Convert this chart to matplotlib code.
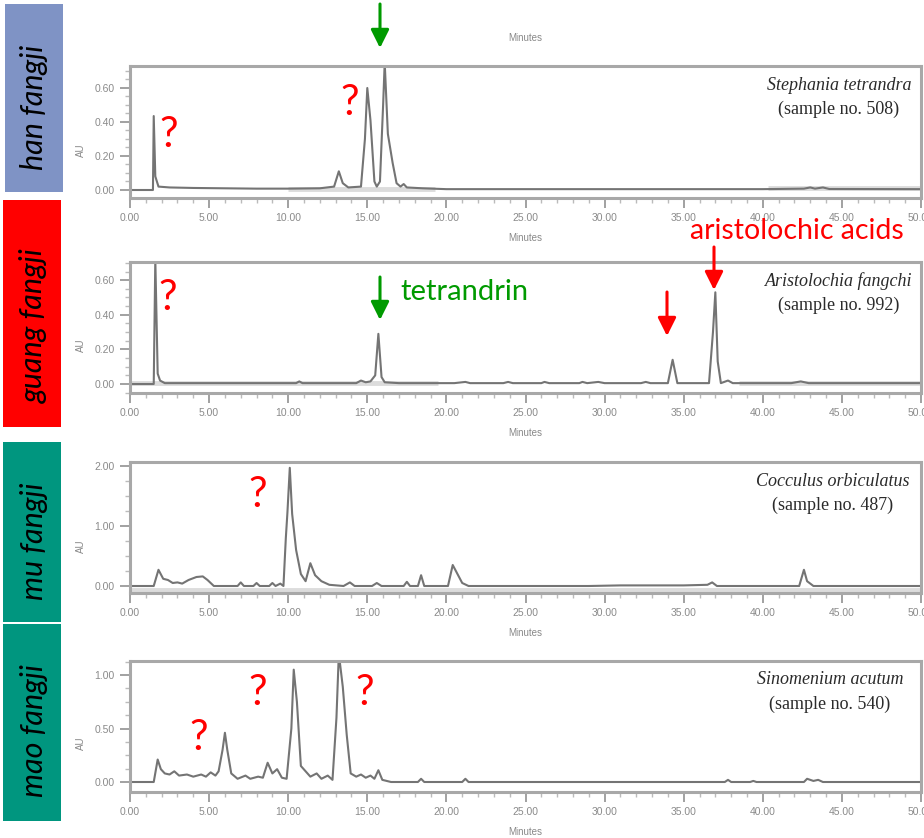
import matplotlib
matplotlib.use("Agg")
import matplotlib.pyplot as plt
from matplotlib.patches import Rectangle, FancyArrowPatch
from matplotlib.ticker import MultipleLocator, FixedLocator

W, H = 924, 838

# ---------------- data (retention time in minutes, absorbance in AU) ----------------
han_t = [0.0, 1.45, 1.5, 1.6, 1.8, 2.5, 4.0, 6.0, 8.0, 10.0, 12.0, 12.9, 13.2, 13.45, 13.8,
         14.6, 14.85, 15.0, 15.2, 15.45, 15.6, 15.8, 16.0, 16.1, 16.3, 16.6, 16.85, 17.1,
         17.3, 17.5, 18.5, 20.0, 30.0, 40.0, 42.6, 43.0, 43.3, 43.8, 44.2, 50.0]
han_au = [0.0, 0.0, 0.435, 0.08, 0.02, 0.015, 0.012, 0.01, 0.008, 0.008, 0.01, 0.02, 0.11, 0.04, 0.015,
          0.02, 0.3, 0.60, 0.41, 0.05, 0.02, 0.05, 0.5, 0.75, 0.33, 0.16, 0.04, 0.02,
          0.035, 0.015, 0.01, 0.005, 0.005, 0.005, 0.008, 0.015, 0.008, 0.015, 0.006, 0.005]

guang_t = [0.0, 1.5, 1.6, 1.75, 1.9, 2.2, 10.5, 10.7, 10.9, 14.3, 14.6, 14.9, 15.2, 15.5, 15.7,
           15.9, 16.1, 17.0, 20.5, 21.2, 21.5, 23.6, 23.9, 24.2, 26.0, 26.2, 26.5, 28.4, 28.6,
           28.9, 29.6, 30.0, 32.3, 32.6, 32.9, 34.0, 34.3, 34.6, 36.6, 36.85, 37.0, 37.15,
           37.35, 37.8, 38.1, 41.8, 42.4, 42.9, 50.0]
guang_au = [0.0, 0.0, 0.72, 0.06, 0.02, 0.005, 0.005, 0.015, 0.005, 0.005, 0.02, 0.01, 0.015, 0.05, 0.29,
            0.04, 0.01, 0.005, 0.005, 0.012, 0.005, 0.005, 0.012, 0.005, 0.005, 0.012, 0.005, 0.005, 0.012,
            0.005, 0.012, 0.005, 0.005, 0.012, 0.005, 0.005, 0.14, 0.005, 0.005, 0.3, 0.53, 0.13,
            0.005, 0.02, 0.005, 0.005, 0.015, 0.005, 0.005]

mu_t = [0.0, 1.5, 1.8, 2.1, 2.4, 2.7, 3.0, 3.3, 3.7, 4.2, 4.6, 4.9, 5.3, 6.8, 7.0, 7.2, 7.8, 8.0,
        8.2, 8.8, 9.0, 9.2, 9.5, 9.7, 9.85, 9.95, 10.1, 10.25, 10.5, 10.8, 11.1, 11.4, 11.7, 12.1,
        12.6, 13.5, 13.9, 14.2, 15.3, 15.6, 15.9, 17.3, 17.5, 17.7, 18.2, 18.4, 18.6, 20.1, 20.4,
        20.7, 21.0, 21.4, 29.0, 31.0, 35.0, 36.5, 36.8, 37.1, 42.3, 42.6, 42.8, 43.2, 50.0]
mu_au = [0.0, 0.0, 0.27, 0.12, 0.1, 0.05, 0.06, 0.04, 0.1, 0.15, 0.16, 0.1, 0.0, 0.0, 0.06, 0.0, 0.0, 0.05,
         0.0, 0.0, 0.05, 0.0, 0.04, 0.0, 0.8, 1.22, 1.97, 1.2, 0.6, 0.2, 0.08, 0.38, 0.18, 0.08,
         0.02, 0.0, 0.06, 0.0, 0.0, 0.05, 0.0, 0.0, 0.07, 0.0, 0.0, 0.18, 0.0, 0.0, 0.35,
         0.2, 0.05, 0.0, 0.0, 0.01, 0.01, 0.02, 0.06, 0.0, 0.0, 0.27, 0.08, 0.0, 0.0]

mao_t = [0.0, 1.5, 1.75, 1.95, 2.2, 2.5, 2.8, 3.1, 3.6, 4.0, 4.5, 4.8, 5.1, 5.4, 5.6, 5.85, 6.0,
         6.15, 6.4, 6.8, 7.3, 7.6, 8.1, 8.4, 8.7, 9.0, 9.3, 9.6, 9.9, 10.2, 10.35, 10.55, 10.8,
         11.1, 11.4, 11.8, 12.1, 12.5, 12.8, 13.05, 13.2, 13.45, 13.7, 13.95, 14.3, 14.6, 14.9,
         15.2, 15.45, 15.7, 15.95, 16.5, 18.2, 18.4, 18.6, 21.0, 21.2, 21.4, 37.6, 37.8, 38.0,
         39.2, 39.4, 39.6, 42.6, 42.8, 43.2, 43.5, 43.8, 50.0]
mao_au = [0.0, 0.0, 0.21, 0.12, 0.08, 0.07, 0.1, 0.06, 0.07, 0.05, 0.07, 0.05, 0.09, 0.06, 0.1, 0.3, 0.46,
          0.3, 0.08, 0.03, 0.06, 0.03, 0.05, 0.04, 0.18, 0.08, 0.12, 0.04, 0.03, 0.5, 1.05, 0.75, 0.15,
          0.1, 0.05, 0.08, 0.03, 0.06, 0.02, 0.6, 1.2, 0.89, 0.44, 0.08, 0.05, 0.07, 0.04,
          0.06, 0.03, 0.11, 0.02, 0.0, 0.0, 0.03, 0.0, 0.0, 0.03, 0.0, 0.0, 0.02, 0.0,
          0.0, 0.01, 0.0, 0.0, 0.03, 0.01, 0.02, 0.0, 0.0]

# integration baseline bands (start, end, level AU)
han_bands = [(10.0, 19.3, 0.006), (40.3, 50.0, 0.012)]
guang_bands = [(0.0, 19.5, 0.006), (38.5, 50.0, 0.006)]
mu_bands = [(0.0, 50.0, -0.06)]
mao_bands = []

group_names = ["han fangji", "guang fangji", "mu fangji", "mao fangji"]
species = ["Stephania tetrandra", "Aristolochia fangchi", "Cocculus orbiculatus", "Sinomenium acutum"]
samples = ["(sample no. 508)", "(sample no. 992)", "(sample no. 487)", "(sample no. 540)"]
x_ticks = [0, 5, 10, 15, 20, 25, 30, 35, 40, 45, 50]
y_ticks = [[0.0, 0.2, 0.4, 0.6], [0.0, 0.2, 0.4, 0.6], [0.0, 1.0, 2.0], [0.0, 0.5, 1.0]]

# ---------------- layout ----------------
fig = plt.figure(figsize=(W / 100, H / 100), dpi=100)

def fx(x):
    return x / W

def fy(y):
    return 1 - y / H

# panel geometry in pixels: top, baseline(0 AU), px per AU, spine
panels = [
    dict(top=66, base=190, scale=170, spine=198, t=han_t, v=han_au, bands=han_bands, lab_x=839),
    dict(top=262, base=384, scale=173, spine=393, t=guang_t, v=guang_au, bands=guang_bands, lab_x=839),
    dict(top=462, base=586, scale=60, spine=593, t=mu_t, v=mu_au, bands=mu_bands, lab_x=833),
    dict(top=661, base=782, scale=107, spine=792, t=mao_t, v=mao_au, bands=mao_bands, lab_x=830),
]
left_px, right_px = 130, 921
frame_col = "#a8a8a8"
tick_col = "#9a9a9a"
trace_col = "#747474"

for i, p in enumerate(panels):
    ax = fig.add_axes([fx(left_px), fy(p["spine"]), fx(right_px - left_px),
                       (p["spine"] - p["top"]) / H])
    ymin = -(p["spine"] - p["base"]) / p["scale"]
    ymax = (p["base"] - p["top"]) / p["scale"]
    for (a, b, lvl) in p["bands"]:
        ax.plot([a, b], [lvl, lvl], color="#dcdcdc", lw=3.5, solid_capstyle="butt", zorder=1)
    ax.plot(p["t"], p["v"], color=trace_col, lw=1.5, zorder=2)
    ax.set_xlim(0, 50)
    ax.set_ylim(ymin, ymax)
    for s in ax.spines.values():
        s.set_color(frame_col)
        s.set_linewidth(2.2)
    ax.xaxis.set_major_locator(FixedLocator(x_ticks))
    ax.xaxis.set_minor_locator(MultipleLocator(1))
    ax.set_xticklabels(["%.2f" % v for v in x_ticks])
    ax.yaxis.set_major_locator(FixedLocator(y_ticks[i]))
    step = y_ticks[i][1] - y_ticks[i][0]
    ax.yaxis.set_minor_locator(MultipleLocator(step / 4))
    ax.set_yticklabels(["%.2f" % v for v in y_ticks[i]])
    ax.tick_params(axis="both", which="major", direction="out", length=7, width=1.3,
                   color=tick_col, labelcolor="#8a8a8a", labelsize=7.5, pad=4)
    ax.tick_params(axis="both", which="minor", direction="out", length=3.5, width=1.0,
                   color="#bbbbbb")
    for lab in ax.get_xticklabels() + ax.get_yticklabels():
        lab.set_family("Liberation Sans")
    # AU label
    fig.text(fx(81), fy((p["top"] + p["base"]) / 2 + 22), "AU", rotation=90, ha="center", va="center",
             fontsize=7, color="#888888", family="Liberation Sans")
    # Minutes label
    fig.text(fx(525), fy(p["spine"] + 40), "Minutes", ha="center", va="center", fontsize=7,
             color="#888888", family="Liberation Sans")
    # species labels
    fig.text(fx(p["lab_x"]), fy(p["top"] + 19), species[i], ha="center", va="center", fontsize=13,
             style="italic", family="Liberation Serif", color="#2a2a2a")
    fig.text(fx(p["lab_x"]), fy(p["top"] + 43), samples[i], ha="center", va="center", fontsize=13,
             family="Liberation Serif", color="#2a2a2a")

# leftover "Minutes" from the chart above
fig.text(fx(525), fy(38), "Minutes", ha="center", va="center", fontsize=7,
         color="#888888", family="Liberation Sans")

# ---------------- coloured group boxes ----------------
boxes = [((5, 4), (63, 192), "#7f93c5", 107),
         ((3, 200), (61, 427), "#ff0000", 326),
         ((3, 442), (61, 622), "#00967f", 541),
         ((3, 624), (61, 821), "#00967f", 731)]
for (p0, p1, col, tc), name in zip(boxes, group_names):
    fig.patches.append(Rectangle((fx(p0[0]), fy(p1[1])), fx(p1[0] - p0[0]), (p1[1] - p0[1]) / H,
                                 transform=fig.transFigure, facecolor=col, edgecolor="none"))
    fig.text(fx(34), fy(tc), name, rotation=90, ha="center", va="center", fontsize=22,
             style="italic", family=["Lato", "DejaVu Sans"], color="black")

# ---------------- annotations ----------------
def arrow(x, y0, y1, col):
    a = FancyArrowPatch((fx(x), fy(y0)), (fx(x), fy(y1)), transform=fig.transFigure,
                        arrowstyle="-|>,head_length=1.0,head_width=0.5", mutation_scale=11,
                        lw=2.2, color=col, shrinkA=0, shrinkB=0)
    fig.patches.append(a)

green = "#009a00"
red = "#ff0000"
arrow(380, 4, 48, green)
arrow(380, 277, 320, green)
arrow(667, 292, 336, red)
arrow(714, 247, 290, red)

fig.text(fx(400), fy(292), "tetrandrin", ha="left", va="center", fontsize=21, color=green,
         family=["Lato", "DejaVu Sans"])
fig.text(fx(797), fy(231), "aristolochic acids", ha="center", va="center", fontsize=20.5, color=red,
         family=["Lato", "DejaVu Sans"])

qmarks = [(169, 135), (350, 103), (168, 298), (258, 495), (199, 738), (258, 693), (365, 693)]
for (qx, qy) in qmarks:
    fig.text(fx(qx), fy(qy), "?", ha="center", va="center", fontsize=30, color=red,
             family=["Lato", "DejaVu Sans"])

fig.savefig("out.png", dpi=100)
